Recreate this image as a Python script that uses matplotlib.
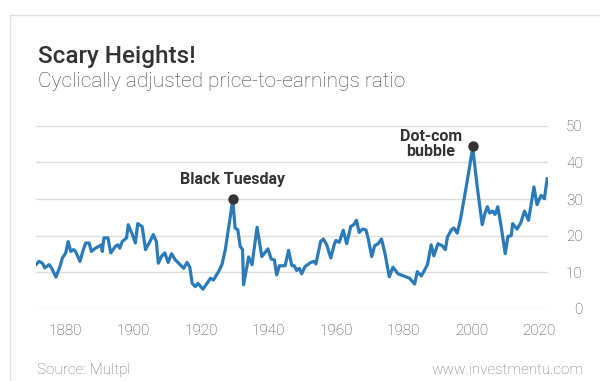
import matplotlib
matplotlib.use('Agg')
import matplotlib.pyplot as plt
from matplotlib.patches import Rectangle

plt.rcParams['font.family'] = ['Roboto', 'DejaVu Sans']

# CAPE ratio (decimal years)
years = [1871.2, 1872.1, 1873.1, 1873.8, 1875.1, 1875.8, 1877.1, 1878.3, 1879.0, 1880.0,
         1880.7, 1881.5, 1882.3, 1882.9, 1884.2, 1885.2, 1885.9, 1886.9, 1887.6, 1888.8,
         1889.8, 1890.5, 1890.8, 1891.3, 1892.5, 1893.3, 1894.7, 1895.4, 1896.0, 1896.7,
         1898.0, 1898.5, 1899.7, 1900.6, 1901.3, 1902.6, 1903.6, 1904.9, 1905.9, 1906.8,
         1907.4, 1908.3, 1909.3, 1910.3, 1911.3, 1912.4, 1913.6, 1914.9, 1915.9, 1916.7,
         1917.4, 1918.3, 1919.1, 1920.6, 1921.8, 1922.8, 1923.7, 1925.2, 1926.2, 1927.2,
         1928.4, 1929.4, 1930.1, 1930.9, 1931.6, 1932.3, 1932.6, 1934.1, 1935.1, 1936.6,
         1938.0, 1939.8, 1940.8, 1941.7, 1942.4, 1943.2, 1944.9, 1945.9, 1946.9, 1947.6,
         1948.3, 1949.1, 1949.8, 1950.8, 1952.5, 1953.5, 1954.0, 1955.4, 1956.2, 1957.2,
         1958.4, 1959.4, 1959.9, 1960.9, 1962.1, 1963.1, 1964.3, 1965.2, 1966.0, 1966.8,
         1967.8, 1968.8, 1969.5, 1970.5, 1971.4, 1972.4, 1973.4, 1974.4, 1975.7, 1976.8,
         1978.3, 1980.0, 1981.7, 1983.2, 1984.0, 1985.2, 1987.0, 1988.1, 1988.9, 1990.1,
         1991.3, 1992.3, 1992.9, 1994.1, 1994.8, 1995.8, 1996.8, 1998.5, 2000.4, 2001.7,
         2003.2, 2003.9, 2004.7, 2005.4, 2006.3, 2007.0, 2007.8, 2008.8, 2010.0, 2010.8,
         2011.8, 2012.2, 2013.5, 2014.6, 2015.7, 2016.9, 2018.5, 2019.4, 2020.6, 2021.6,
         2022.4]
cape = [12.1, 13.0, 12.5, 11.2, 12.1, 11.2, 8.7, 11.6, 13.9, 15.3,
        18.4, 15.7, 16.2, 15.7, 13.0, 16.2, 18.0, 18.0, 15.7, 16.6,
        17.1, 17.5, 15.7, 19.4, 19.4, 15.3, 17.1, 17.5, 16.6, 18.4,
        19.4, 23.0, 20.3, 18.0, 23.3, 22.5, 16.2, 18.4, 20.3, 18.4,
        12.5, 14.3, 15.3, 12.7, 15.1, 13.4, 12.3, 11.1, 12.7, 11.4,
        7.0, 6.1, 7.0, 5.4, 7.0, 8.4, 7.9, 10.2, 12.1, 16.2,
        23.5, 29.9, 22.1, 21.6, 17.1, 16.2, 6.6, 14.2, 12.1, 22.3,
        14.3, 16.4, 13.6, 13.4, 9.3, 11.8, 11.8, 16.0, 11.8, 11.8,
        10.5, 11.1, 9.6, 11.6, 12.7, 13.0, 12.3, 18.4, 19.1, 17.5,
        13.9, 17.5, 18.7, 18.2, 21.5, 17.8, 22.5, 23.0, 24.2, 20.9,
        21.8, 21.6, 19.1, 14.3, 17.3, 17.8, 19.1, 15.3, 8.8, 11.4,
        9.6, 9.0, 8.4, 6.8, 10.2, 9.0, 12.1, 17.5, 14.5, 17.8,
        17.3, 16.2, 19.6, 21.6, 22.1, 20.7, 24.6, 33.5, 44.0, 33.5,
        23.0, 25.8, 27.9, 26.2, 26.7, 25.8, 27.9, 22.5, 15.1, 19.8,
        20.0, 23.3, 21.8, 23.5, 26.7, 24.2, 33.3, 28.5, 31.0, 30.1,
        35.5]

events = ['Black Tuesday', 'Dot-com\nbubble']
event_years = [1929.4, 2000.4]
event_vals = [30.0, 44.6]

blue = '#2b7bba'
dark = '#333333'
grey = '#444444'

fig = plt.figure(figsize=(6, 3.81), dpi=100)
ax = fig.add_axes([0.06, 0.189, 0.853, 0.481])

ax.plot(years, cape, color=blue, lw=2.3, solid_joinstyle='round', zorder=3)
ax.scatter(event_years, event_vals, s=42, color=dark, zorder=4, clip_on=False)
ax.text(event_years[0], event_vals[0] + 5.3, events[0], ha='center', va='center',
        fontsize=11.5, fontweight='bold', color=dark)
ax.text(event_years[1] - 12.4, event_vals[1] + 0.3, events[1], ha='center', va='center',
        fontsize=11.5, fontweight='bold', color=dark, linespacing=1.0)

ax.set_xlim(1871.2, 2022.6)
ax.set_ylim(0, 50)
ax.set_xticks([1880, 1900, 1920, 1940, 1960, 1980, 2000, 2020])
ax.set_yticks([0, 10, 20, 30, 40, 50])
ax.yaxis.tick_right()
ax.tick_params(axis='both', length=0, labelsize=11, labelcolor=grey)
ax.tick_params(axis='y', pad=25)
ax.tick_params(axis='x', pad=11)
for lab in ax.get_yticklabels():
    lab.set_horizontalalignment('right')
for lab in ax.get_xticklabels() + ax.get_yticklabels():
    lab.set_fontweight('light')
ax.grid(axis='y', color='#dddddd', lw=1)
ax.set_axisbelow(True)
for s in ax.spines.values():
    s.set_visible(False)

fig.text(0.064, 0.834, 'Scary Heights!', fontsize=17.5, color=dark, fontweight='medium')
fig.text(0.063, 0.7725, 'Cyclically adjusted price-to-earnings ratio', fontsize=15,
         color=grey, fontweight='light')
fig.text(0.062, 0.018, 'Source: Multpl', fontsize=11, color='#777777', fontweight='light')
fig.text(0.972, 0.018, 'www.investmentu.com', fontsize=11, color='#777777', ha='right',
         fontweight='light')

fig.patches.append(Rectangle((10 / 600, -0.1), 1.0, 366 / 381 + 0.1, transform=fig.transFigure,
                             fill=False, edgecolor='#e0e0e0', lw=1))

plt.savefig('out.png', dpi=100)
